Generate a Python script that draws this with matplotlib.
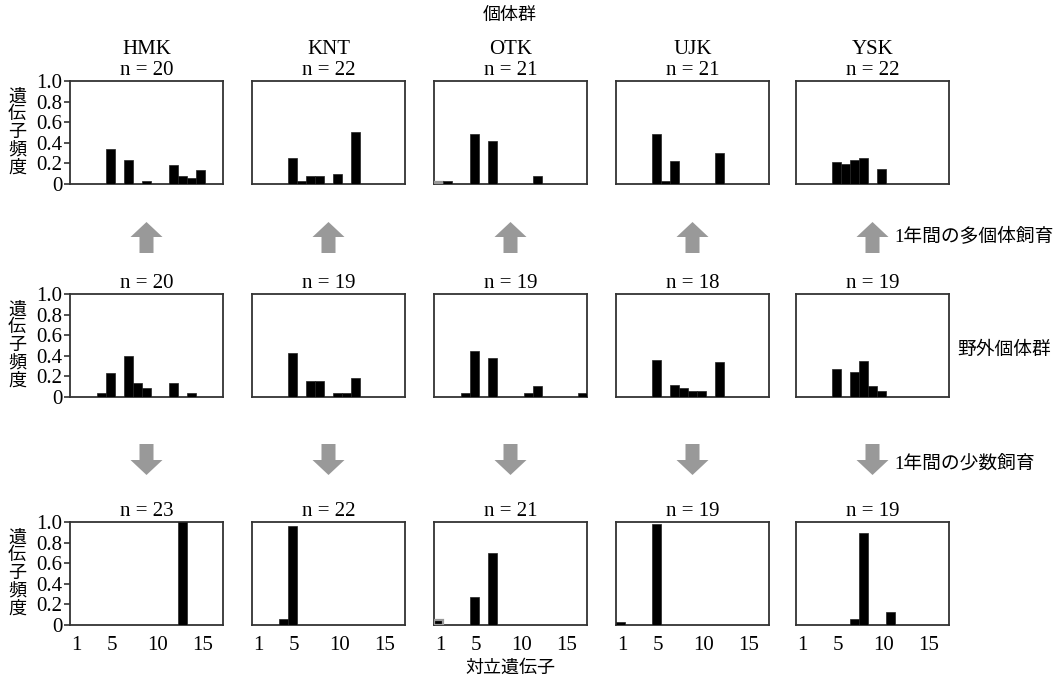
import matplotlib
matplotlib.use('Agg')
import matplotlib.pyplot as plt
from matplotlib.patches import FancyArrow

plt.rcParams['font.family'] = ['Liberation Serif', 'Noto Sans CJK JP']

populations = ['HMK', 'KNT', 'OTK', 'UJK', 'YSK']
n_many = [20, 22, 21, 21, 22]   # after 1 year of group rearing
n_wild = [20, 19, 19, 18, 19]   # wild populations
n_few = [23, 22, 21, 19, 19]    # after 1 year of small-group rearing

# allele numbers and frequencies per population (order as populations)
many_alleles = [[5, 7, 9, 12, 13, 14, 15],
                [5, 6, 7, 8, 10, 12],
                [1, 2, 5, 7, 12],
                [5, 6, 7, 12],
                [5, 6, 7, 8, 10]]
many_freqs = [[0.335, 0.235, 0.032, 0.184, 0.08, 0.055, 0.132],
              [0.255, 0.029, 0.074, 0.074, 0.10, 0.506],
              [0.018, 0.032, 0.484, 0.416, 0.077],
              [0.484, 0.026, 0.223, 0.297],
              [0.21, 0.19, 0.235, 0.255, 0.142]]

wild_alleles = [[4, 5, 7, 8, 9, 12, 14],
                [5, 7, 8, 10, 11, 12],
                [4, 5, 7, 11, 12, 17],
                [5, 7, 8, 9, 10, 12],
                [5, 7, 8, 9, 10]]
wild_freqs = [[0.035, 0.235, 0.40, 0.135, 0.084, 0.135, 0.035],
              [0.43, 0.154, 0.154, 0.035, 0.035, 0.183],
              [0.035, 0.45, 0.376, 0.035, 0.109, 0.035],
              [0.363, 0.119, 0.09, 0.061, 0.061, 0.338],
              [0.27, 0.244, 0.347, 0.109, 0.058]]

few_alleles = [[13],
               [4, 5],
               [1, 5, 7],
               [1, 5],
               [7, 8, 11]]
few_freqs = [[1.0],
             [0.056, 0.964],
             [0.05, 0.272, 0.70],
             [0.033, 0.984],
             [0.062, 0.895, 0.125]]

n_alleles = 17
x_ticks = [1, 5, 10, 15]
y_ticks = [0, 0.2, 0.4, 0.6, 0.8, 1.0]
y_ticklabels = ['0', '0.2', '0.4', '0.6', '0.8', '1.0']

# bars drawn with grey outline (population index, row index)
grey_edge = {(2, 0): [1], (2, 2): [1]}

W, H = 1064, 683
fig = plt.figure(figsize=(W / 100, H / 100), dpi=100)

col_left = [70, 252, 434, 616, 796]
pw, ph = 153, 103
row_top = [81, 294, 522]

rows = [(many_alleles, many_freqs, n_many),
        (wild_alleles, wild_freqs, n_wild),
        (few_alleles, few_freqs, n_few)]

def fx(x):
    return x / W

def fy(y):
    return 1 - y / H

fs = 15
for r, (alls, frs, ns) in enumerate(rows):
    for c in range(5):
        ax = fig.add_axes([fx(col_left[c]), fy(row_top[r] + ph), pw / W, ph / H])
        a = alls[c]
        f = frs[c]
        greys = grey_edge.get((c, r), [])
        ec = ['#999999' if al in greys else '#222222' for al in a]
        lw = [1.6 if al in greys else 0.5 for al in a]
        ax.bar([al - 0.5 for al in a], f, width=1.0, color='black',
               edgecolor=ec, linewidth=lw, zorder=3)
        ax.set_xlim(0, n_alleles)
        ax.set_ylim(0, 1.0)
        for s in ax.spines.values():
            s.set_color('#333333')
            s.set_linewidth(1.3)
        if c == 0:
            ax.set_yticks(y_ticks)
            ax.set_yticklabels(y_ticklabels)
            ax.tick_params(axis='y', length=4.5, width=1.2, color='#333333',
                           labelsize=fs, pad=1)
        else:
            ax.set_yticks([])
        if r == 2:
            ax.set_xticks([t - 0.3 for t in x_ticks])
            ax.set_xticklabels([str(t) for t in x_ticks])
            ax.tick_params(axis='x', length=0, labelsize=fs, pad=8)
        else:
            ax.set_xticks([])
        cx = col_left[c] + pw / 2
        fig.text(fx(cx), fy(row_top[r] - 6), f'n = {ns[c]}', ha='center',
                 va='baseline', fontsize=fs)
        if r == 0:
            fig.text(fx(cx), fy(54), populations[c], ha='center',
                     va='baseline', fontsize=fs)
    # y label
    fig.text(fx(17), fy(row_top[r] + ph / 2), '遺\n伝\n子\n頻\n度',
             ha='center', va='center', fontsize=13, linespacing=1.05)

# overlay for arrows
ov = fig.add_axes([0, 0, 1, 1], zorder=-1)
ov.set_xlim(0, W)
ov.set_ylim(H, 0)
ov.axis('off')
for c in range(5):
    cx = col_left[c] + pw / 2
    ov.add_patch(FancyArrow(cx, 253, 0, -31, width=14, head_width=32,
                            head_length=15, length_includes_head=True,
                            color='#999999', lw=0))
    ov.add_patch(FancyArrow(cx, 444, 0, 31, width=14, head_width=32,
                            head_length=15, length_includes_head=True,
                            color='#999999', lw=0))

fig.text(fx(510), fy(15), '個体群', ha='center', va='center', fontsize=13)
fig.text(fx(510), fy(668), '対立遺伝子', ha='center', va='center', fontsize=13)
fig.text(fx(894), fy(237), '1年間の多個体飼育', ha='left', va='center', fontsize=13.5)
fig.text(fx(957), fy(350), '野外個体群', ha='left', va='center', fontsize=13.5)
fig.text(fx(894), fy(465), '1年間の少数飼育', ha='left', va='center', fontsize=13.5)

fig.savefig('out.png', dpi=100)
